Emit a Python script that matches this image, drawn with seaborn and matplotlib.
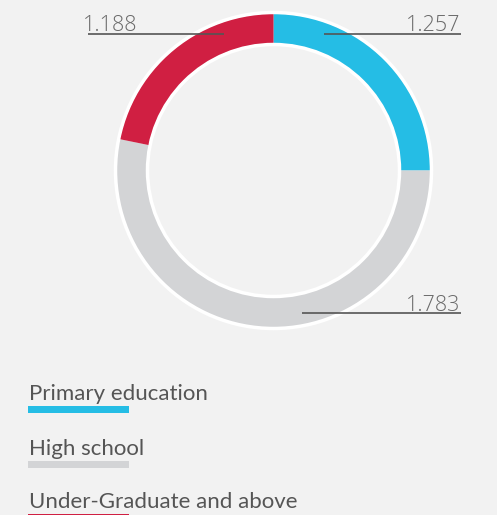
import matplotlib
matplotlib.use("Agg")
import matplotlib.pyplot as plt
from matplotlib.patches import Circle
import seaborn as sns

# ---- data ----
categories = ["Primary education", "High school", "Under-Graduate and above"]
values = [1.257, 1.783, 1.188]
value_labels = ["1.257", "1.783", "1.188"]
ring_share = [25.0, 53.2, 21.8]   # share of the ring (%)
colors = ["#25bde5", "#d3d4d6", "#d01f42"]

sns.set_theme(style="white")
plt.rcParams['font.family'] = ['Lato', 'DejaVu Sans']

W, H = 497, 515
BG = "#f2f2f2"
fig = plt.figure(figsize=(W / 100, H / 100), dpi=100, facecolor=BG)
ax = fig.add_axes([0, 0, 1, 1])
ax.set_facecolor(BG)

def Y(py):
    return H - py

cx, cy = 273.5, 170.5
R, width = 157, 30
pal = sns.color_palette(colors)
ax.pie(ring_share, colors=pal, startangle=90, counterclock=False,
       center=(cx, Y(cy)), radius=R, frame=True,
       wedgeprops=dict(width=width, linewidth=0))
ax.set_xlim(0, W)
ax.set_ylim(0, H)
ax.set_aspect("equal")
ax.axis("off")
ax.add_patch(Circle((cx, Y(cy)), R + 1, fill=False, ec="white", lw=2.5, zorder=5))
ax.add_patch(Circle((cx, Y(cy)), R - width - 1, fill=False, ec="white", lw=2.5, zorder=5))

# value annotations: (text right x, baseline y, line x0, line x1, line y)
ann = {
    "1.188": (137, 31, 88, 224, 34),
    "1.257": (460, 31, 324, 461, 34),
    "1.783": (460, 311, 302, 461, 313),
}
for lab in value_labels:
    tx, ty, x0, x1, ly = ann[lab]
    ax.text(tx, Y(ty), lab, ha="right", va="baseline", fontsize=15.5,
            fontfamily=["Open Sans", "DejaVu Sans"], fontweight=300,
            color="#6a6a6a", zorder=6)
    ax.plot([x0, x1], [Y(ly), Y(ly)], color="#555555", lw=1.2, zorder=6,
            solid_capstyle="butt")

# legend
leg_y = [400, 455, 508]
bar_y = [406, 461, 514]
for cat, col, ty, by in zip(categories, colors, leg_y, bar_y):
    ax.text(29, Y(ty), cat, ha="left", va="baseline", fontsize=16,
            color="#555555", zorder=6)
    ax.fill_between([28, 129], Y(by), Y(by + 7), color=col, lw=0, zorder=6)

fig.savefig("out.png", dpi=100, facecolor=BG)
